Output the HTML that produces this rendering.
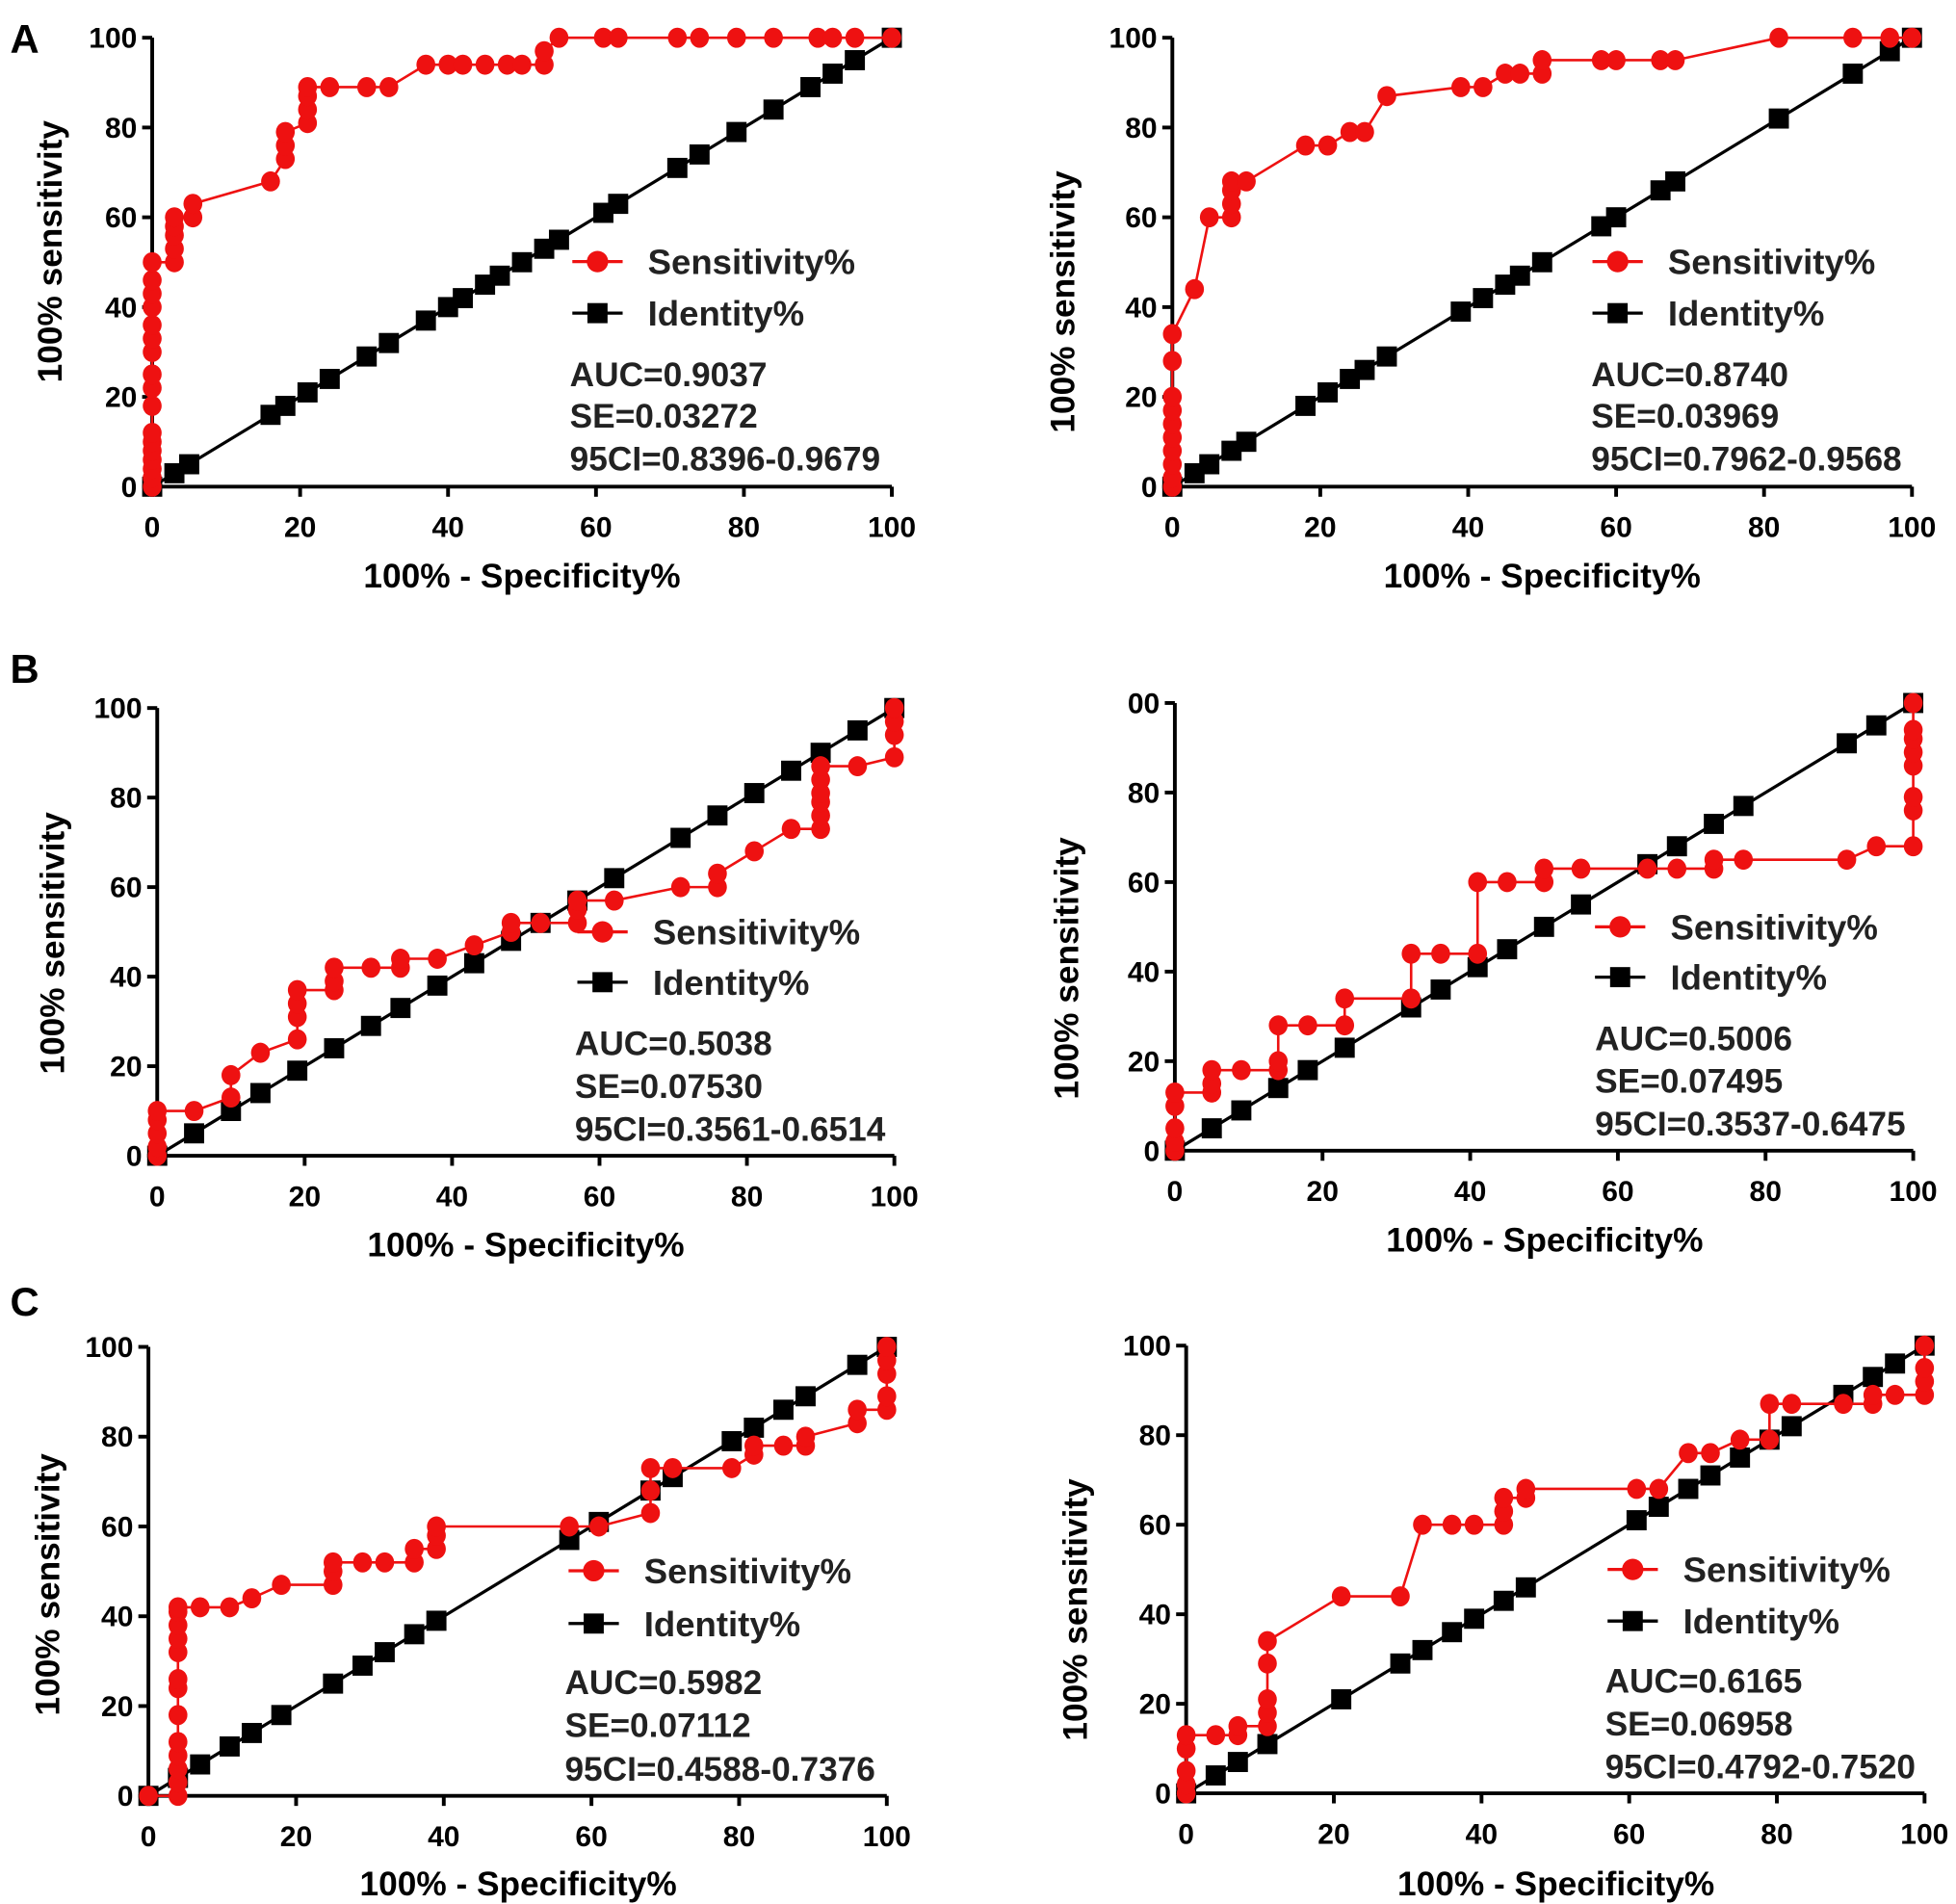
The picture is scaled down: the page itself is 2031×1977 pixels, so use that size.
<!DOCTYPE html>
<html><head><meta charset="utf-8"><style>
html,body{margin:0;padding:0;background:#fff;}
svg{display:block;font-family:"Liberation Sans",Arial,sans-serif;font-weight:bold;}
</style></head><body>
<svg id="fig" width="2031" height="1977" viewBox="0 0 1555 1514" preserveAspectRatio="none" xmlns="http://www.w3.org/2000/svg"></svg>
<script>
const xTicks = [0,20,40,60,80,100];
const yTicksLabels = ["0","20","40","60","80","100"];
const yTicksLabelsB2 = ["0","20","40","60","80","00"];
const statsA1 = ["AUC=0.9037","SE=0.03272","95CI=0.8396-0.9679"];
const statsA2 = ["AUC=0.8740","SE=0.03969","95CI=0.7962-0.9568"];
const statsB1 = ["AUC=0.5038","SE=0.07530","95CI=0.3561-0.6514"];
const statsB2 = ["AUC=0.5006","SE=0.07495","95CI=0.3537-0.6475"];
const statsC1 = ["AUC=0.5982","SE=0.07112","95CI=0.4588-0.7376"];
const statsC2 = ["AUC=0.6165","SE=0.06958","95CI=0.4792-0.7520"];
const sensA1 = [[0,0],[0,2],[0,4],[0,6],[0,8],[0,10],[0,12],[0,18],[0,22],[0,25],[0,30],[0,33],[0,36],[0,40],[0,43],[0,46],[0,50],[3,50],[3,53],[3,56],[3,58],[3,60],[5.5,60],[5.5,63],[16,68],[18,73],[18,76],[18,79],[21,81],[21,84],[21,87],[21,89],[24,89],[29,89],[32,89],[37,94],[40,94],[42,94],[45,94],[48,94],[50,94],[53,94],[53,97],[55,100],[61,100],[63,100],[71,100],[74,100],[79,100],[84,100],[90,100],[92,100],[95,100],[100,100]];
const idA1 = [0,3,5,16,18,21,24,29,32,37,40,42,45,47,50,53,55,61,63,71,74,79,84,89,92,95,100];
const sensA2 = [[0,0],[0,2],[0,5],[0,8],[0,11],[0,14],[0,17],[0,20],[0,28],[0,34],[3,44],[5,60],[8,60],[8,63],[8,66],[8,68],[10,68],[18,76],[21,76],[24,79],[26,79],[29,87],[39,89],[42,89],[45,92],[47,92],[50,92],[50,95],[58,95],[60,95],[66,95],[68,95],[82,100],[92,100],[97,100],[100,100]];
const idA2 = [0,3,5,8,10,18,21,24,26,29,39,42,45,47,50,58,60,66,68,82,92,97,100];
const sensB1 = [[0,0],[0,2],[0,5],[0,8],[0,10],[5,10],[10,13],[10,18],[14,23],[19,26],[19,31],[19,34],[19,37],[24,37],[24,39],[24,42],[29,42],[33,42],[33,44],[38,44],[43,47],[48,50],[48,52],[52,52],[57,52],[57,55],[57,57],[62,57],[71,60],[76,60],[76,63],[81,68],[86,73],[90,73],[90,76],[90,79],[90,81],[90,84],[90,87],[95,87],[100,89],[100,94],[100,97],[100,100]];
const idB1 = [0,5,10,14,19,24,29,33,38,43,48,52,57,62,71,76,81,86,90,95,100];
const sensB2 = [[0,0],[0,2],[0,5],[0,10],[0,13],[5,13],[5,15],[5,18],[9,18],[14,18],[14,20],[14,28],[18,28],[23,28],[23,34],[32,34],[32,44],[36,44],[41,44],[41,60],[45,60],[50,60],[50,63],[55,63],[64,63],[68,63],[73,63],[73,65],[77,65],[91,65],[95,68],[100,68],[100,76],[100,79],[100,86],[100,89],[100,92],[100,94],[100,100]];
const idB2 = [0,5,9,14,18,23,32,36,41,45,50,55,64,68,73,77,91,95,100];
const sensC1 = [[0,0],[4,0],[4,3],[4,6],[4,9],[4,12],[4,18],[4,24],[4,26],[4,32],[4,35],[4,38],[4,41],[4,42],[7,42],[11,42],[14,44],[18,47],[25,47],[25,50],[25,52],[29,52],[32,52],[36,52],[36,55],[39,55],[39,58],[39,60],[57,60],[61,60],[68,63],[68,68],[68,73],[71,73],[79,73],[82,76],[82,78],[86,78],[89,78],[89,80],[96,83],[96,86],[100,86],[100,89],[100,94],[100,97],[100,100]];
const idC1 = [0,4,7,11,14,18,25,29,32,36,39,57,61,68,71,79,82,86,89,96,100];
const sensC2 = [[0,0],[0,2],[0,5],[0,10],[0,13],[4,13],[7,13],[7,15],[11,15],[11,18],[11,21],[11,29],[11,34],[21,44],[29,44],[32,60],[36,60],[39,60],[43,60],[43,63],[43,66],[46,66],[46,68],[61,68],[64,68],[68,76],[71,76],[75,79],[79,79],[79,87],[82,87],[89,87],[93,87],[93,89],[96,89],[100,89],[100,92],[100,95],[100,100]];
const idC2 = [0,4,7,11,21,29,32,36,39,43,46,61,64,68,71,75,79,82,89,93,96,100];

const panels = [
 {n:"a1",x0:121,x1:709,y0:387,y1:30,sens:sensA1,id:idA1,yl:yTicksLabels,st:statsA1,lg:[455,208,249],sx:453,sy:[297,330,364],xt:[415,457],yt:[40,200]},
 {n:"a2",x0:932,x1:1520,y0:387,y1:30,sens:sensA2,id:idA2,yl:yTicksLabels,st:statsA2,lg:[1266,208,249],sx:1265,sy:[297,330,364],xt:[1226,457],yt:[845,240]},
 {n:"b1",x0:125,x1:711,y0:919,y1:563,sens:sensB1,id:idB1,yl:yTicksLabels,st:statsB1,lg:[459,741,781],sx:457,sy:[829,863,897],xt:[418,989],yt:[42,750]},
 {n:"b2",x0:934,x1:1521,y0:915,y1:559,sens:sensB2,id:idB2,yl:yTicksLabelsB2,st:statsB2,lg:[1268,737,777],sx:1268,sy:[825,859,893],xt:[1228,985],yt:[848,770]},
 {n:"c1",x0:118,x1:705,y0:1428,y1:1071,sens:sensC1,id:idC1,yl:yTicksLabels,st:statsC1,lg:[452,1249,1291],sx:449,sy:[1337,1371,1406],xt:[412,1497],yt:[38,1260]},
 {n:"c2",x0:943,x1:1530,y0:1426,y1:1070,sens:sensC2,id:idC2,yl:yTicksLabels,st:statsC2,lg:[1278,1248,1289],sx:1276,sy:[1336,1370,1404],xt:[1237,1497],yt:[855,1280]}
];
const NS="http://www.w3.org/2000/svg";
const svg=document.getElementById('fig');
function mk(tag,attrs,parent){const e=document.createElementNS(NS,tag);for(const k in attrs)e.setAttribute(k,attrs[k]);(parent||svg).appendChild(e);return e;}
function txt(s,attrs,parent){const e=mk('text',attrs,parent);e.textContent=s;return e;}

[["A",8,42],["B",8,543],["C",8,1046]].forEach(function(p){
 const t=txt(p[0],{x:p[1],y:p[2],'font-size':32});
 
 
});

panels.forEach(function(P){
 const g=mk('g',{});
 
 
 const sx=v=>P.x0+(P.x1-P.x0)*v/100;
 const sy=v=>P.y0+(P.y1-P.y0)*v/100;
 const ax=mk('path',{d:`M${P.x0},${P.y1} V${P.y0} H${P.x1}`,stroke:'#000','stroke-width':3,fill:'none'},g);
 
 
 xTicks.forEach(function(t,i){
  mk('line',{x1:sx(t),x2:sx(t),y1:P.y0,y2:P.y0+8,stroke:'#000','stroke-width':3},g);
  mk('line',{x1:P.x0-8,x2:P.x0,y1:sy(t),y2:sy(t),stroke:'#000','stroke-width':3},g);
  const xl=txt(String(t),{x:sx(t),y:P.y0+40,'font-size':23,'text-anchor':'middle'},g);
  
  
  const yl=txt(P.yl[i],{x:P.x0-12,y:sy(t)+8,'font-size':23,'text-anchor':'end'},g);
  
  
 });
 const xt=txt("100% - Specificity%",{x:P.xt[0],y:P.xt[1]+10,'font-size':27,'text-anchor':'middle'},g);
 
 
 const yt=txt("100% sensitivity",{x:0,y:0,'font-size':27,'text-anchor':'middle',transform:`translate(${P.yt[0]+9},${P.yt[1]}) rotate(-90)`},g);
 
 
 const ip=P.id.map((v,i)=>(i?'L':'M')+sx(v)+','+sy(v)).join(' ');
 const il=mk('path',{d:ip,stroke:'#000','stroke-width':2.5,fill:'none'},g);
 
 
 P.id.forEach(function(v){
  const r=mk('rect',{x:sx(v)-8,y:sy(v)-8,width:16,height:16,fill:'#000'},g);
  
  
 });
 const sp=P.sens.map((d,i)=>(i?'L':'M')+sx(d[0])+','+sy(d[1])).join(' ');
 const sl=mk('path',{d:sp,stroke:'#ee1111','stroke-width':2,fill:'none'},g);
 
 
 P.sens.forEach(function(d){
  const c=mk('ellipse',{cx:sx(d[0]),cy:sy(d[1]),rx:7.5,ry:8,fill:'#ee1111'},g);
  
  
 });
 const L=P.lg;
 const le1=mk('g',{},g);
 
 
 mk('line',{x1:L[0],x2:L[0]+40,y1:L[1],y2:L[1],stroke:'#ee1111','stroke-width':2.5},le1);
 mk('ellipse',{cx:L[0]+20,cy:L[1],rx:8.5,ry:8.5,fill:'#ee1111'},le1);
 txt("Sensitivity%",{x:L[0]+60,y:L[1]+10,'font-size':28,fill:'#222'},le1);
 const le2=mk('g',{},g);
 
 
 mk('line',{x1:L[0],x2:L[0]+40,y1:L[2],y2:L[2],stroke:'#000','stroke-width':2.5},le2);
 mk('rect',{x:L[0]+12,y:L[2]-8,width:16,height:16,fill:'#000'},le2);
 txt("Identity%",{x:L[0]+60,y:L[2]+10,'font-size':28,fill:'#222'},le2);
 P.st.forEach(function(s,i){
  const t=txt(s,{x:P.sx,y:P.sy[i]+10,'font-size':27,fill:'#222'},g);
  
  
 });
});
</script>
</body></html>
